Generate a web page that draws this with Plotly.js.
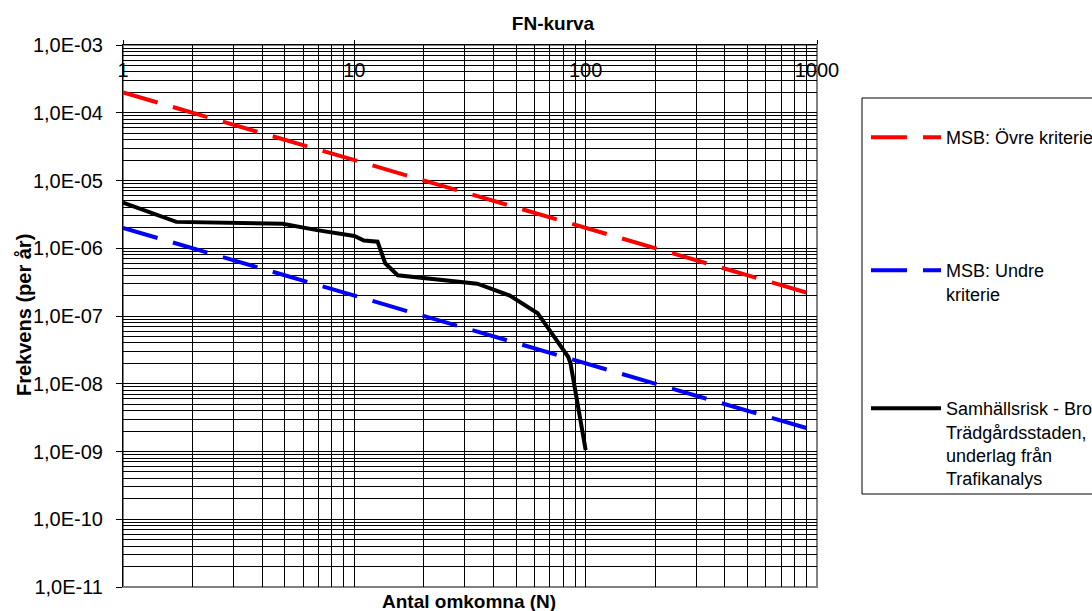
<!DOCTYPE html>
<html><head><meta charset="utf-8">
<script src="https://cdn.plot.ly/plotly-3.0.1.min.js"></script>
<style>html,body{margin:0;padding:0;background:#fff}#chart{width:1092px;height:611px}</style>
</head><body><div id="chart"></div>
<script>
// ---- data ----
const upperN = [1, 1000];
const upperF = [2e-4, 2e-7];
const lowerN = [1, 1000];
const lowerF = [2e-6, 2e-9];
const riskN = [1, 1.7, 4.9, 6.9, 10, 11, 12.6, 13.6, 15.4, 20, 34, 47, 62, 84, 86, 100];
const riskF = [4.7e-6, 2.45e-6, 2.3e-6, 1.85e-6, 1.52e-6, 1.3e-6, 1.25e-6, 6.0e-7, 4.0e-7, 3.6e-7, 3.0e-7, 2.0e-7, 1.1e-7, 2.5e-8, 2.0e-8, 1.05e-9];
const upperName = 'MSB: Övre kriterie';
const lowerName = 'MSB: Undre<br>kriterie';
const riskName = 'Samhällsrisk - Bro<br>Trädgårdsstaden,<br>underlag från<br>Trafikanalys';
const xTickVals = [1, 10, 100, 1000];
const xTickText = ['1', '10', '100', '1000'];
const yTickVals = [1e-11, 1e-10, 1e-9, 1e-8, 1e-7, 1e-6, 1e-5, 1e-4, 1e-3];
const yTickText = ['1,0E-11', '1,0E-10', '1,0E-09', '1,0E-08', '1,0E-07', '1,0E-06', '1,0E-05', '1,0E-04', '1,0E-03'];
const minorDigits = [2, 3, 4, 5, 6, 7, 8, 9];

const xMinor = [];
[1, 10, 100].forEach(d => minorDigits.forEach(m => xMinor.push(m * d)));
const yMinor = [];
for (let e = -11; e <= -4; e++) minorDigits.forEach(m => yMinor.push(m * Math.pow(10, e)));

const FONT = 'Liberation Sans, Arial, sans-serif';

const traces = [
  {x: upperN, y: upperF, name: upperName, mode: 'lines', legend: 'legend',
   line: {color: '#ff0000', width: 4, dash: '36px,16px'}},
  {x: lowerN, y: lowerF, name: lowerName, mode: 'lines', legend: 'legend2',
   line: {color: '#0000ff', width: 4, dash: '36px,16px'}},
  {x: riskN, y: riskF, name: riskName, mode: 'lines', legend: 'legend3',
   line: {color: '#000000', width: 4}},
  // invisible trace carrying the top tick-label axis
  {x: xTickVals, y: [1e-3, 1e-3, 1e-3, 1e-3], xaxis: 'x2', mode: 'lines', showlegend: false,
   line: {width: 0}, hoverinfo: 'skip'}
];

const W = 1092, H = 611, L = 123, R = 817, T = 45, B = 587;
const px = v => (v - L) / (R - L);
const py = v => (B - v) / (B - T);

const legendBase = {xanchor: 'left', yanchor: 'top', bgcolor: 'rgba(0,0,0,0)', borderwidth: 0,
  font: {family: FONT, size: 18, color: '#000'}, valign: 'top', itemwidth: 70};

const layout = {
  width: W, height: H,
  margin: {l: L, r: W - R, t: T, b: H - B, autoexpand: false},
  paper_bgcolor: '#fff', plot_bgcolor: '#fff',
  font: {family: FONT, color: '#000'},
  title: {text: '<b>FN-kurva</b>', x: 553 / W, xanchor: 'center', y: 1 - 23 / H, yanchor: 'middle',
    font: {family: FONT, size: 19, color: '#000'}},
  xaxis: {type: 'log', range: [0, 3], side: 'top', tickmode: 'array', tickvals: xTickVals, ticktext: xTickText,
    showticklabels: false, ticks: 'outside', ticklen: 4, tickcolor: '#000',
    showline: true, linecolor: '#000', linewidth: 1,
    showgrid: true, gridcolor: '#000', gridwidth: 1, zeroline: false,
    minor: {tickmode: 'array', tickvals: xMinor, showgrid: true, gridcolor: '#000', gridwidth: 1, ticks: ''}},
  xaxis2: {type: 'log', range: [0, 3], overlaying: 'x', anchor: 'free', position: py(56), side: 'bottom',
    tickmode: 'array', tickvals: xTickVals, ticktext: xTickText, ticks: '', showline: false,
    showgrid: false, zeroline: false, ticklabelstandoff: 0,
    tickfont: {family: FONT, size: 20, color: '#000'}},
  yaxis: {type: 'log', range: [-11, -3], tickmode: 'array', tickvals: yTickVals, ticktext: yTickText,
    ticks: 'outside', ticklen: 6, tickcolor: '#000', ticklabelstandoff: 9,
    tickfont: {family: FONT, size: 20, color: '#000'},
    showline: true, linecolor: '#000', linewidth: 1,
    showgrid: true, gridcolor: '#000', gridwidth: 1, zeroline: false,
    minor: {tickmode: 'array', tickvals: yMinor, showgrid: true, gridcolor: '#000', gridwidth: 1, ticks: ''}},
  showlegend: true,
  legend: Object.assign({}, legendBase, {x: px(866), y: py(119)}),
  legend2: Object.assign({}, legendBase, {x: px(866), y: py(252)}),
  legend3: Object.assign({}, legendBase, {x: px(866), y: py(390)}),
  shapes: [
    {type: 'rect', xref: 'paper', yref: 'paper', x0: 0, x1: 1, y0: 0, y1: 1,
     line: {color: '#808080', width: 2}, layer: 'below'},
    {type: 'rect', xref: 'paper', yref: 'paper', x0: px(862), x1: px(1110), y0: py(494), y1: py(98),
     line: {color: '#000', width: 1}, fillcolor: 'rgba(0,0,0,0)'}
  ],
  annotations: [
    {text: '<b>Antal omkomna (N)</b>', xref: 'paper', yref: 'paper', x: px(469), y: py(601),
     xanchor: 'center', yanchor: 'middle', showarrow: false, font: {family: FONT, size: 19, color: '#000'}},
    {text: '<b>Frekvens (per år)</b>', xref: 'paper', yref: 'paper', x: px(24), y: py(315),
     xanchor: 'center', yanchor: 'middle', textangle: -90, showarrow: false,
     font: {family: FONT, size: 20, color: '#000'}}
  ]
};

Plotly.newPlot('chart', traces, layout, {staticPlot: true, displayModeBar: false});
</script>
</body></html>
